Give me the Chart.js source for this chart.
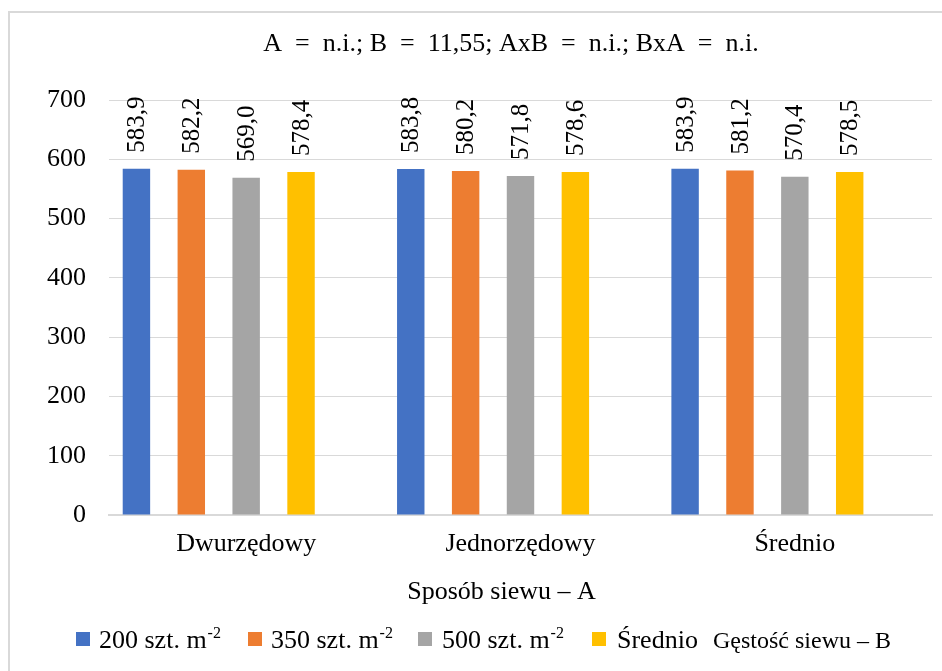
<!DOCTYPE html>
<html lang="pl">
<head>
<meta charset="utf-8">
<title>Gęstość siewu</title>
<script src="https://cdn.jsdelivr.net/npm/chart.js@4.4.1/dist/chart.umd.min.js"></script>
<style>
  html, body { margin: 0; padding: 0; background: #ffffff; }
  canvas { display: block; }
</style>
</head>
<body>
<canvas id="chart" width="942" height="671"></canvas>
<script>
// Categories (sowing method) and values for each sowing density
const categories = ['Dwurzędowy', 'Jednorzędowy', 'Średnio'];
const v200 = [583.9, 583.8, 583.9];
const v350 = [582.2, 580.2, 581.2];
const v500 = [569.0, 571.8, 570.4];
const vMean = [578.4, 578.6, 578.5];

const seriesNames = ['200 szt. m', '350 szt. m', '500 szt. m', 'Średnio'];
const seriesSup = ['-2', '-2', '-2', ''];
const groupLabel = 'Gęstość siewu – B';
const axisTitle = 'Sposób siewu – A';
const titleText = 'A\u00a0 = \u00a0n.i.; B\u00a0 = \u00a011,55; AxB\u00a0 = \u00a0n.i.; BxA\u00a0 = \u00a0n.i.';
const yMin = 0, yMax = 700, yStep = 100;

const colors = ['#4472C4', '#ED7D31', '#A5A5A5', '#FFC000'];
const FONT = '"Liberation Serif", "Times New Roman", serif';
const GRID = '#d9d9d9';

const fmt = v => v.toFixed(1).replace('.', ',');

// Frame, title, axis title and legend
const decorations = {
  id: 'decorations',
  beforeDraw(chart) {
    const ctx = chart.ctx;
    ctx.save();
    ctx.fillStyle = '#ffffff';
    ctx.fillRect(0, 0, chart.width, chart.height);
    ctx.strokeStyle = GRID;
    ctx.lineWidth = 2;
    ctx.strokeRect(9, 12, chart.width + 50, chart.height + 50);
    ctx.restore();
  },
  afterDraw(chart) {
    const ctx = chart.ctx;
    const area = chart.chartArea;
    ctx.save();
    ctx.fillStyle = '#000000';
    ctx.textBaseline = 'alphabetic';

    // title
    ctx.font = '26px ' + FONT;
    ctx.textAlign = 'center';
    ctx.fillText(titleText, 511, 51);

    // x axis title
    ctx.fillText(axisTitle, (area.left + area.right) / 2 - 19, 599);

    // legend
    ctx.textAlign = 'left';
    const baseY = 648;
    const boxX = [76, 248, 418, 592];
    const textX = [99, 271, 442, 617];
    seriesNames.forEach((name, i) => {
      ctx.fillStyle = colors[i];
      ctx.fillRect(boxX[i], baseY - 16, 14, 14);
      ctx.fillStyle = '#000000';
      ctx.font = '26px ' + FONT;
      ctx.fillText(name, textX[i], baseY);
      if (seriesSup[i]) {
        const w = ctx.measureText(name).width;
        ctx.font = '16px ' + FONT;
        ctx.fillText(seriesSup[i], textX[i] + w + 1, baseY - 10);
      }
    });
    ctx.font = '24px ' + FONT;
    ctx.fillText(groupLabel, 713, baseY);
    ctx.restore();
  }
};

// Rotated value labels above each bar
const valueLabels = {
  id: 'valueLabels',
  afterDatasetsDraw(chart) {
    const ctx = chart.ctx;
    ctx.save();
    ctx.fillStyle = '#000000';
    ctx.font = '25px ' + FONT;
    ctx.textAlign = 'left';
    ctx.textBaseline = 'middle';
    chart.data.datasets.forEach((ds, di) => {
      if (!ds.data.length) return;
      const meta = chart.getDatasetMeta(di);
      meta.data.forEach((bar, i) => {
        ctx.save();
        ctx.translate(bar.x + 1, bar.y - 16);
        ctx.rotate(-Math.PI / 2);
        ctx.fillText(fmt(ds.data[i]), 0, 0);
        ctx.restore();
      });
    });
    ctx.restore();
  }
};

const seriesData = [v200, v350, v500, vMean];
const datasets = seriesData.map((d, i) => ({
  label: seriesNames[i] + seriesSup[i],
  data: d,
  backgroundColor: colors[i],
  borderWidth: 0,
  categoryPercentage: 1.0,
  barPercentage: 0.5
}));
// the group caption occupies its own (empty) slot in each category
datasets.push({
  label: groupLabel,
  data: [],
  backgroundColor: 'rgba(0,0,0,0)',
  categoryPercentage: 1.0,
  barPercentage: 0.5
});

new Chart(document.getElementById('chart'), {
  type: 'bar',
  data: { labels: categories, datasets },
  options: {
    responsive: false,
    animation: false,
    devicePixelRatio: 1,
    layout: { padding: { top: 100, right: 10, left: 0, bottom: 0 } },
    plugins: {
      legend: { display: false },
      title: { display: false },
      tooltip: { enabled: false }
    },
    scales: {
      x: {
        grid: { display: false, drawTicks: false },
        border: { display: true, color: GRID, width: 2 },
        ticks: {
          color: '#000000',
          font: { family: FONT, size: 26 },
          padding: 14,
          maxRotation: 0
        },
        afterFit(scale) { scale.height = 156; }
      },
      y: {
        min: yMin,
        max: yMax,
        grid: { color: GRID, lineWidth: 1, drawTicks: false },
        border: { display: false },
        ticks: {
          stepSize: yStep,
          color: '#000000',
          font: { family: FONT, size: 26 },
          padding: 23
        },
        afterFit(scale) { scale.width = 109; }
      }
    }
  },
  plugins: [decorations, valueLabels]
});
</script>
</body>
</html>
